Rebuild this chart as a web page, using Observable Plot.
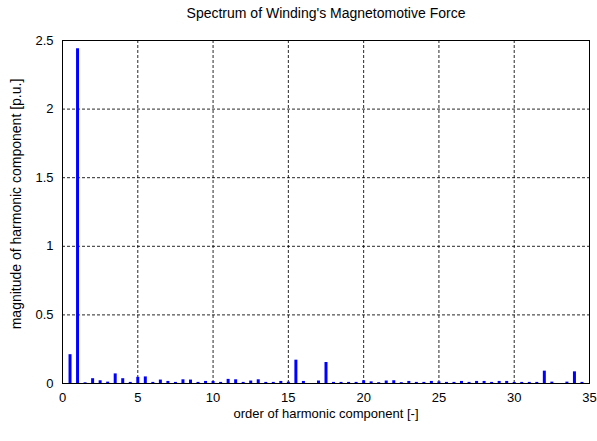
<!DOCTYPE html>
<html><head><meta charset="utf-8">
<script src="https://cdn.jsdelivr.net/npm/d3@7"></script>
<script src="https://cdn.jsdelivr.net/npm/@observablehq/plot@0.6"></script>
<style>body{margin:0;background:#fff}</style>
</head><body><div id="chart"></div>
<script>
const chartTitle = "Spectrum of Winding's Magnetomotive Force";
const xLabel = "order of harmonic component [-]";
const yLabel = "magnitude of harmonic component [p.u.]";
const xTicks = [0, 5, 10, 15, 20, 25, 30, 35];
const yTicks = [0, 0.5, 1, 1.5, 2, 2.5];
const harmonicOrder = [0.5, 1, 1.5, 2, 2.5, 3, 3.5, 4, 4.5, 5, 5.5, 6, 6.5, 7, 7.5, 8, 8.5, 9, 9.5, 10,
  10.5, 11, 11.5, 12, 12.5, 13, 13.5, 14, 14.5, 15, 15.5, 16, 17, 17.5, 18, 18.5, 19, 19.5, 20,
  20.5, 21, 21.5, 22, 22.5, 23, 23.5, 24, 24.5, 25, 25.5, 26, 26.5, 27, 27.5, 28, 28.5, 29, 29.5, 30,
  30.5, 31, 31.5, 32, 32.5, 33.5, 34, 34.5];
const magnitude = [0.21, 2.44, 0.005, 0.035, 0.02, 0.01, 0.07, 0.035, 0.008, 0.045, 0.048, 0.008, 0.025, 0.015, 0.008, 0.027, 0.025, 0.008, 0.015, 0.015,
  0.008, 0.03, 0.027, 0.008, 0.018, 0.027, 0.008, 0.008, 0.015, 0.01, 0.17, 0.015, 0.018, 0.153, 0.008, 0.008, 0.008, 0.008, 0.02,
  0.012, 0.006, 0.018, 0.02, 0.006, 0.015, 0.008, 0.008, 0.015, 0.012, 0.008, 0.008, 0.015, 0.008, 0.015, 0.015, 0.008, 0.015, 0.015, 0.008,
  0.008, 0.008, 0.008, 0.09, 0.01, 0.01, 0.085, 0.008];

const data = harmonicOrder.map((o, i) => ({order: o, mag: magnitude[i]}));
const font = "'Liberation Sans', Arial, Helvetica, sans-serif";

const chart = Plot.plot({
  width: 597, height: 441,
  marginLeft: 62, marginRight: 8, marginTop: 40, marginBottom: 58,
  style: {fontFamily: font, fontSize: "13px", color: "black", background: "white", overflow: "visible"},
  x: {domain: [0, 35], ticks: xTicks, tickSize: 0, tickPadding: 9, label: null},
  y: {domain: [0, 2.5], ticks: yTicks, tickFormat: d => String(d), tickSize: 0, tickPadding: 9, label: null},
  marks: [
    Plot.gridX(xTicks, {stroke: "black", strokeOpacity: 0.85, strokeDasharray: "3,2"}),
    Plot.gridY(yTicks, {stroke: "black", strokeOpacity: 0.85, strokeDasharray: "3,2"}),
    Plot.ruleX(data, {x: "order", y1: 0, y2: "mag", stroke: "#0000ff", strokeWidth: 3}),
    Plot.frame({stroke: "black", strokeWidth: 1}),
    Plot.text([chartTitle], {frameAnchor: "top", lineAnchor: "middle", textAnchor: "middle", dy: -27, fontSize: 14, fill: "black"}),
    Plot.text([xLabel], {frameAnchor: "bottom", lineAnchor: "middle", textAnchor: "middle", dy: 30, fontSize: 13, fill: "black"}),
    Plot.text([yLabel], {frameAnchor: "left", lineAnchor: "middle", textAnchor: "middle", dx: -46, dy: -8, rotate: -90, fontSize: 14, fill: "black"})
  ]
});
document.getElementById("chart").appendChild(chart);
</script>
</body></html>
